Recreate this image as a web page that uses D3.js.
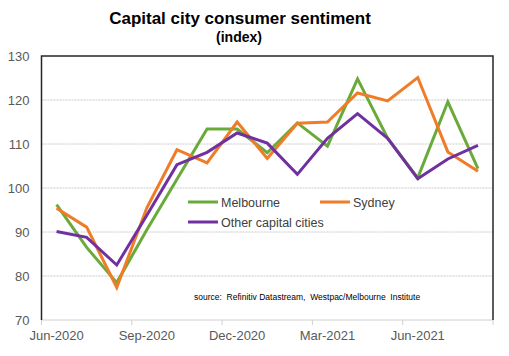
<!DOCTYPE html>
<html>
<head>
<meta charset="utf-8">
<script src="https://cdn.jsdelivr.net/npm/d3@7"></script>
<style>
  html, body { margin: 0; padding: 0; background: #fff; }
  svg { display: block; font-family: Arial, "Liberation Sans", sans-serif; }
</style>
</head>
<body>
<svg id="chart" width="509" height="356"></svg>
<script>
const months = ["Jun-2020","Jul-2020","Aug-2020","Sep-2020","Oct-2020","Nov-2020","Dec-2020",
                "Jan-2021","Feb-2021","Mar-2021","Apr-2021","May-2021","Jun-2021","Jul-2021","Aug-2021"];
const melbourne = [96.2, 86.5, 78.5, 90.5, 102, 113.4, 113.4, 108, 114.8, 109.5, 124.8, 111.3, 102.3, 119.6, 104.4];
const sydney    = [95.4, 91.1, 77.4, 95.5, 108.7, 105.7, 115, 106.7, 114.7, 115, 121.6, 119.8, 125.1, 108.2, 103.8];
const other     = [90.1, 88.8, 82.5, 93.8, 105.3, 108.1, 112.5, 110.2, 103.1, 111.3, 116.9, 111.3, 102.1, 106.6, 109.7];
const seriesNames = ["Melbourne", "Sydney", "Other capital cities"];
const yTicks = [70, 80, 90, 100, 110, 120, 130];
const xLabelMonths = ["Jun-2020","Sep-2020","Dec-2020","Mar-2021","Jun-2021"];

const colors = ["#6aaa3a", "#f07c27", "#7030a0"];
const seriesData = [melbourne, sydney, other];

const svg = d3.select("#chart");
const L = 41.5, R = 493, T = 56, B = 320;

const x = d3.scaleBand().domain(months).range([L, R]).padding(0);
const y = d3.scaleLinear().domain([70, 130]).range([B, T]);

// Title
svg.append("text").attr("x", 240).attr("y", 24).attr("text-anchor", "middle")
  .attr("font-size", 17).attr("font-weight", "bold").attr("fill", "#000")
  .text("Capital city consumer sentiment");
svg.append("text").attr("x", 239).attr("y", 42).attr("text-anchor", "middle")
  .attr("font-size", 14).attr("font-weight", "bold").attr("fill", "#000")
  .text("(index)");

// Gridlines
svg.append("g").selectAll("line").data(yTicks.filter(d => d > 70 && d < 130)).join("line")
  .attr("x1", L).attr("x2", R).attr("y1", d => y(d)).attr("y2", d => y(d))
  .attr("stroke", "#c8c8c8").attr("stroke-width", 1).attr("stroke-dasharray", "2,1");

// Y axis labels
const yAxis = d3.axisLeft(y).tickValues(yTicks).tickSize(0).tickPadding(12);
const gy = svg.append("g").attr("transform", `translate(${L},0)`).call(yAxis);
gy.select(".domain").remove();
gy.selectAll("text").attr("font-size", 13).attr("fill", "#595959")
  .attr("font-family", "Arial, 'Liberation Sans', sans-serif");

// X axis: bottom line with boundary ticks every 3 months, labels centered on months
const xAxis = d3.axisBottom(x).tickValues(xLabelMonths).tickSize(0).tickPadding(11);
const gx = svg.append("g").attr("transform", `translate(0,${B})`).call(xAxis);
gx.select(".domain").remove();
gx.selectAll("text").attr("font-size", 13).attr("fill", "#595959")
  .attr("font-family", "Arial, 'Liberation Sans', sans-serif");
svg.append("line").attr("x1", L).attr("x2", R).attr("y1", B).attr("y2", B)
  .attr("stroke", "#d0d0d0").attr("stroke-width", 1);
const boundaryIdx = [0, 3, 6, 9, 12];
svg.append("g").selectAll("line").data(boundaryIdx).join("line")
  .attr("x1", i => x(months[i])).attr("x2", i => x(months[i]))
  .attr("y1", B).attr("y2", B + 5).attr("stroke", "#d0d0d0");
svg.append("line").attr("x1", R).attr("x2", R).attr("y1", B).attr("y2", B + 5).attr("stroke", "#d0d0d0");

// Frame: left, top, right dark
svg.append("path")
  .attr("d", `M${L},${B}V${T}H${R}V${B}`)
  .attr("fill", "none").attr("stroke", "#262626").attr("stroke-width", 1.5);

// Lines
const line = d3.line().x((d, i) => x(months[i]) + x.bandwidth() / 2).y(d => y(d));
svg.append("g").selectAll("path").data(seriesData).join("path")
  .attr("d", d => line(d)).attr("fill", "none")
  .attr("stroke", (d, i) => colors[i]).attr("stroke-width", 3)
  .attr("stroke-linejoin", "miter");

// Legend
const legendPos = [[188, 202], [320, 202], [188, 222]];
const lg = svg.append("g");
seriesNames.forEach((name, i) => {
  const [lx, ly] = legendPos[i];
  lg.append("line").attr("x1", lx).attr("x2", lx + 30).attr("y1", ly).attr("y2", ly)
    .attr("stroke", colors[i]).attr("stroke-width", 3);
  lg.append("text").attr("x", lx + 33).attr("y", ly + 4.5).attr("font-size", 12.5)
    .attr("fill", "#404040").text(name);
});

// Source
svg.append("text").attr("x", 194).attr("y", 300).attr("font-size", 8.5).attr("fill", "#000")
  .attr("xml:space", "preserve")
  .text("source:  Refinitiv Datastream,  Westpac/Melbourne  Institute");
</script>
</body>
</html>
